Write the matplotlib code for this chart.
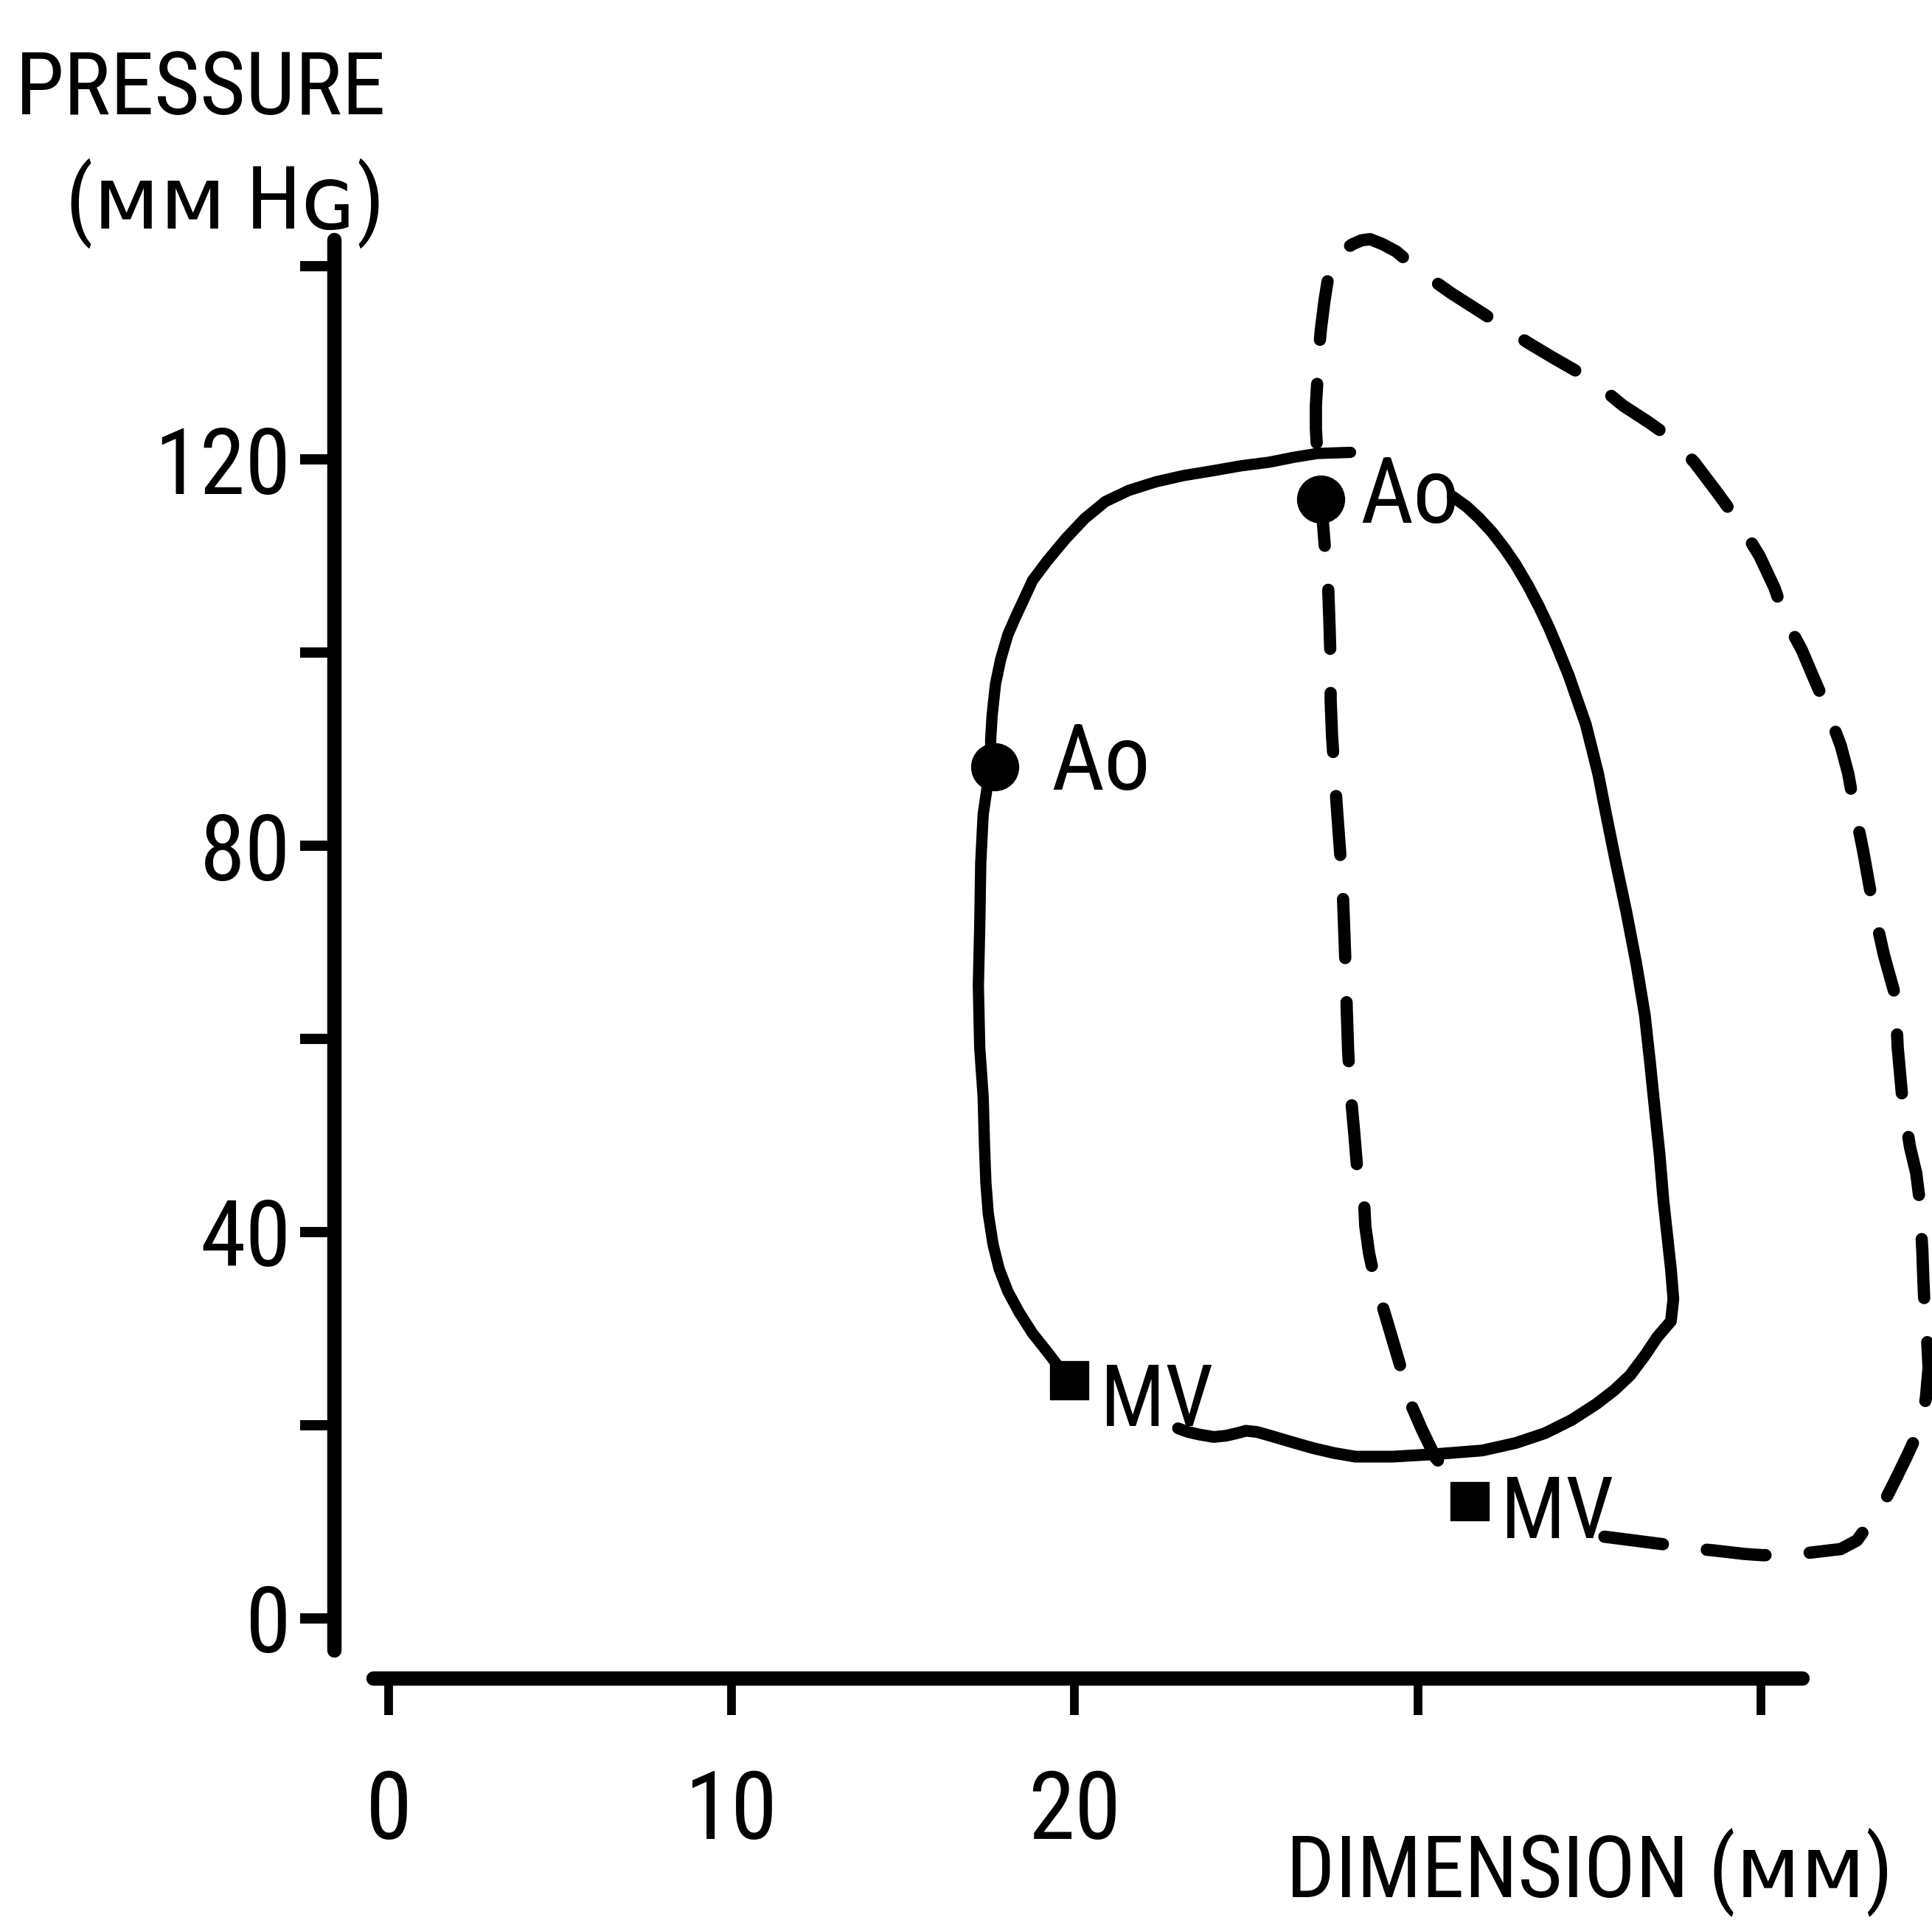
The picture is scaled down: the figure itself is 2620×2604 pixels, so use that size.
import matplotlib
matplotlib.use("Agg")
import matplotlib.pyplot as plt
from matplotlib import font_manager as fm


def pick(fams):
    for f in fams:
        try:
            fm.findfont(fm.FontProperties(family=f), fallback_to_default=False)
            return f
        except Exception:
            pass
    return "DejaVu Sans"


NARROW = pick(["Liberation Sans Narrow", "Roboto Condensed", "Liberation Sans"])
plt.rcParams["font.family"] = [NARROW, "DejaVu Sans"]

# ---------------- data (dimension in mm, pressure in mm Hg) ----------------
# control loop (solid): from MV closure up the isovolumic limb, over to the top
solid_up_x = [19.85, 19.56, 19.20, 18.77, 18.38, 18.05, 17.80, 17.62, 17.48, 17.41,
              17.37, 17.33, 17.23, 17.19, 17.23, 17.26, 17.33, 17.44, 17.55, 17.55,
              17.59, 17.69, 17.84, 18.05, 18.27, 18.52, 18.77, 19.20, 19.74, 20.28,
              20.89, 21.57, 22.36, 23.15, 24.02, 24.84, 25.67, 26.39, 27.07, 28.04]
solid_up_p = [24.65, 25.92, 27.58, 29.50, 31.67, 33.84, 36.13, 38.69, 41.88, 45.07,
              48.90, 54.00, 59.11, 65.49, 71.62, 78.25, 83.23, 85.91, 88.21, 91.02,
              93.44, 96.76, 99.31, 101.86, 103.65, 105.56, 107.48, 109.52, 111.82, 113.86,
              115.65, 116.80, 117.69, 118.33, 118.84, 119.35, 119.73, 120.24, 120.63, 120.75]
# control loop (solid): ejection, relaxation and filling limbs
solid_dn_x = [31.02, 31.42, 31.77, 32.17, 32.53, 32.85, 33.21, 33.53, 33.82, 34.11,
              34.40, 34.65, 34.90, 35.08, 35.26, 35.47, 35.76, 36.08, 36.37, 36.62,
              36.77, 36.91, 37.05, 37.16, 37.27, 37.38, 37.45, 37.38, 36.98, 36.62,
              36.19, 35.73, 35.22, 34.50, 33.71, 32.85, 31.88, 30.52, 29.26, 28.18,
              27.54, 26.93, 26.31, 25.70, 25.31, 24.99, 24.73, 24.41, 24.05, 23.62,
              23.30, 23.01]
solid_dn_p = [116.16, 115.14, 113.99, 112.46, 110.80, 109.14, 106.97, 104.80, 102.63, 100.20,
              97.65, 95.10, 92.55, 89.99, 87.44, 83.61, 78.51, 73.15, 67.79, 62.43,
              57.57, 52.73, 48.00, 43.28, 39.71, 36.13, 33.07, 30.77, 29.11, 27.20,
              25.16, 23.62, 22.22, 20.56, 19.16, 18.14, 17.37, 16.99, 16.73, 16.73,
              17.12, 17.63, 18.26, 18.90, 19.29, 19.41, 19.16, 18.90, 18.77, 19.03,
              19.29, 19.67]
# second loop (dashed)
dash_x = [31.42, 30.98, 30.52, 30.12, 29.73, 29.55, 29.22, 28.90, 28.72, 28.58,
          28.47, 28.43, 28.25, 28.15, 28.04, 27.97, 27.93, 27.90, 27.86, 27.82,
          27.75, 27.64, 27.57, 27.50, 27.46, 27.46, 27.43, 27.39, 27.28, 27.18,
          27.10, 27.07, 27.03, 27.03, 27.07, 27.10, 27.18, 27.28, 27.36, 27.43,
          27.57, 27.75, 27.93, 28.11, 28.36, 28.61, 28.97, 29.37, 29.80, 30.27,
          30.98, 31.77, 32.49, 33.21, 33.93, 34.68, 35.37, 35.98, 36.70, 37.41,
          38.06, 38.74, 39.39, 39.96, 40.40, 40.72, 41.19, 41.54, 41.90, 42.33,
          42.55, 42.69, 42.98, 43.27, 43.59, 43.92, 43.99, 44.13, 44.35, 44.53,
          44.63, 44.71, 44.74, 44.78, 44.85, 44.89, 44.81, 44.60, 44.27, 43.92,
          43.63, 43.27, 42.80, 42.33, 41.11, 40.07, 39.53, 38.60, 37.81, 37.13,
          35.44]
dash_p = [12.90, 14.69, 16.61, 19.54, 22.73, 25.41, 29.37, 33.20, 35.49, 37.79,
          40.60, 43.54, 45.83, 50.17, 54.51, 58.72, 62.94, 66.89, 70.85, 74.68,
          78.63, 84.00, 87.70, 91.40, 95.10, 98.67, 102.50, 106.59, 111.44, 115.90,
          118.33, 120.63, 123.18, 125.60, 128.03, 130.58, 133.64, 136.45, 138.24, 139.77,
          140.79, 141.43, 141.94, 142.32, 142.71, 142.83, 142.32, 141.56, 140.28, 139.01,
          137.22, 135.43, 133.77, 132.11, 130.58, 129.05, 127.39, 125.60, 123.94, 122.16,
          119.73, 116.54, 113.35, 110.03, 106.71, 103.40, 100.33, 97.40, 94.46, 90.38,
          87.44, 84.63, 79.53, 73.78, 68.68, 64.47, 59.11, 53.62, 48.77, 46.09,
          43.28, 37.92, 34.86, 31.67, 28.73, 25.92, 22.73, 19.41, 16.86, 14.31,
          12.27, 10.35, 8.05, 7.16, 6.65, 6.52, 6.65, 7.03, 7.29, 7.67,
          8.44]
# event markers
ao_x = [17.66, 27.18]
ao_p = [88.21, 115.90]
mv_x = [19.85, 31.52]
mv_p = [24.65, 12.14]
ao_label_x = [19.31, 28.31]
ao_label_p = [85.78, 113.48]
mv_label_x = [20.75, 32.42]
mv_label_p = [19.87, 8.31]

y_ticks = [0, 20, 40, 60, 80, 100, 120, 140]
y_ticklabels = ["0", "", "40", "", "80", "", "120", ""]
x_ticks = [0, 10, 20, 30, 40]
x_ticklabels = ["0", "10", "20", "", ""]

# ---------------- figure ----------------
fig = plt.figure(figsize=(26.2, 26.04), dpi=100)
fig.patch.set_facecolor("white")
ax = fig.add_axes([0, 0, 1, 1])
ax.set_facecolor("white")
ax.set_xlim(-11.33, 44.99)
ax.set_ylim(-31.26, 167.6)

for s in ("top", "right"):
    ax.spines[s].set_visible(False)
ax.spines["left"].set_position(("data", -1.6))
ax.spines["left"].set_bounds(-3.3, 142.8)
ax.spines["bottom"].set_position(("data", -6.2))
ax.spines["bottom"].set_bounds(-0.45, 41.2)
for s in ("left", "bottom"):
    ax.spines[s].set_linewidth(14)
    ax.spines[s].set_capstyle("round")
    ax.spines[s].set_color("black")

ax.set_yticks(y_ticks, labels=y_ticklabels)
ax.set_xticks(x_ticks, labels=x_ticklabels)
ax.tick_params(axis="y", direction="out", length=33, width=10, pad=9,
               labelsize=90, colors="black")
ax.tick_params(axis="x", direction="out", length=36, width=8.5, pad=52,
               labelsize=92, colors="black")

line_kw = dict(color="black", solid_capstyle="round", solid_joinstyle="round",
               clip_on=False)
ax.plot(solid_up_x, solid_up_p, lw=11, **line_kw)
ax.plot(solid_dn_x, solid_dn_p, lw=11.5, **line_kw)
# dashed loop drawn from its open end (after the MV label) back to the MV marker
ax.plot(dash_x[::-1], dash_p[::-1], lw=12, color="black",
        linestyle=(0, (4.8, 3.6)), dash_capstyle="round",
        dash_joinstyle="round", clip_on=False)

ax.plot(ao_x, ao_p, linestyle="none", marker="o", markersize=46,
        color="black", clip_on=False, zorder=5)
ax.plot(mv_x, mv_p, linestyle="none", marker="s", markersize=37,
        color="black", clip_on=False, zorder=5)

for x, p in zip(ao_label_x, ao_label_p):
    ax.text(x, p, "Ao", fontsize=90, ha="left", va="baseline")
for x, p in zip(mv_label_x, mv_label_p):
    ax.text(x, p, "MV", fontsize=84, ha="left", va="baseline")

fig.text(0.104, 0.9405, "PRESSURE", fontsize=86, ha="center", va="baseline")
fig.text(0.1164, 0.881, "(\u1d0d\u1d0d H\u0262)", fontsize=86, ha="center",
         va="baseline")
fig.text(0.8227, 0.012, "DIMENSION (\u1d0d\u1d0d)", fontsize=84, ha="center",
         va="baseline")

fig.savefig("out.png", dpi=100, facecolor="white")
